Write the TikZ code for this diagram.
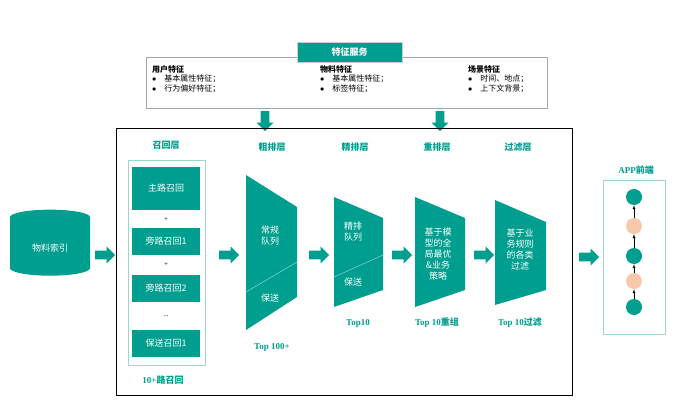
\documentclass[tikz,border=0pt]{standalone}
\usepackage{fontspec}
\setmainfont{Liberation Serif}
\newfontfamily\cjk{Noto Sans CJK SC}
\usetikzlibrary{shapes.geometric,shapes.arrows}
\definecolor{teal1}{RGB}{0,158,142}
\definecolor{peach}{RGB}{248,200,170}
\definecolor{lteal}{RGB}{160,215,205}
\tikzset{
  blk/.style={single arrow,fill=teal1,draw=none,minimum height=20pt,minimum width=17pt,single arrow head extend=4pt,inner sep=4pt},
  rbox/.style={fill=teal1,text=white,minimum width=68pt,inner sep=0pt,font=\cjk\small},
  ttl/.style={text=teal1,font=\cjk\bfseries\small},
  lbl/.style={text=teal1,font=\bfseries\small},
  funnel/.style={fill=teal1},
  ftxt/.style={text=white,font=\cjk\small,align=center,inner sep=0pt},
  dot/.style={circle,minimum size=16pt,inner sep=0pt},
  feat/.style={font=\cjk\footnotesize,align=left,anchor=north west,inner sep=0pt}
}
\begin{document}
\begin{tikzpicture}[x=1pt,y=-1pt,>=latex]
  \useasboundingbox (0,0) rectangle (690,401);
  % feature service
  \draw[gray!70,thick] (146,57) rectangle (547,108);
  \node[fill=teal1,draw=gray!40,text=white,font=\cjk\bfseries\small,minimum width=105pt,minimum height=20pt] (fs) at (349.5,52) {特征服务};
  \node[feat] (user) at (152,65) {\textbf{用户特征}\\$\bullet$\quad 基本属性特征；\\$\bullet$\quad 行为偏好特征；};
  \node[feat] (item) at (320,65) {\textbf{物料特征}\\$\bullet$\quad 基本属性特征；\\$\bullet$\quad 标签特征；};
  \node[feat] (scene) at (468,65) {\textbf{场景特征}\\$\bullet$\quad 时间、地点；\\$\bullet$\quad 上下文背景；};
  \node[blk,shape border rotate=270] (d1) at (265,119) {};
  \node[blk,shape border rotate=270] (d2) at (440,119) {};
  % main frame
  \draw[thick] (116,128) rectangle (572,395);
  % index
  \node[shape=cylinder,shape border rotate=90,aspect=0.35,fill=teal1,minimum width=80pt,minimum height=66pt,text=white,font=\cjk\small] (idx) at (50,248) {物料索引};
  \node[blk] (a0) at (103,255) {};
  % recall
  \node[ttl] (trecall) at (166,145) {召回层};
  \draw[lteal,thick] (128,160) rectangle (205,365);
  \node[rbox,minimum height=43pt] (r1) at (166,188) {主路召回};
  \node[font=\scriptsize] (p1) at (166,220) {+};
  \node[rbox,minimum height=27pt] (r2) at (166,241) {旁路召回1};
  \node[font=\scriptsize] (p2) at (166,265) {+};
  \node[rbox,minimum height=27pt] (r3) at (166,288) {旁路召回2};
  \node[font=\scriptsize] (p3) at (166,316) {...};
  \node[rbox,minimum height=27pt] (r4) at (166,343) {保送召回1};
  \node[lbl] (nrecall) at (163,380) {10+{\cjk 路召回}};
  \node[blk] (a1) at (227,255) {};
  % coarse ranking
  \node[ttl] (tcoarse) at (272,147) {粗排层};
  \fill[funnel] (246,175) -- (297,207) -- (297,297) -- (246,330) -- cycle;
  \draw[cyan!40,thin] (246,292) -- (297,262);
  \node[ftxt] (c1) at (270,236) {常规\\队列};
  \node[ftxt] (c2) at (270,298) {保送};
  \node[lbl] (top1) at (272,347) {Top 100+};
  \node[blk] (a2) at (317,255) {};
  % fine ranking
  \node[ttl] (tfine) at (355,147) {精排层};
  \fill[funnel] (334,197) -- (383,218) -- (383,290) -- (334,307) -- cycle;
  \draw[cyan!40,thin] (334,277) -- (383,255);
  \node[ftxt] (f1) at (353,232) {精排\\队列};
  \node[ftxt] (f2) at (353,282) {保送};
  \node[lbl] (top2) at (358,323) {Top10};
  \node[blk] (a3) at (400,255) {};
  % reranking
  \node[ttl] (trerank) at (437,147) {重排层};
  \fill[funnel] (415,197) -- (465,218) -- (465,290) -- (415,307) -- cycle;
  \node[ftxt] (rr) at (438,254) {基于模\\型的全\\局最优\\\&业务\\策略};
  \node[lbl] (top3) at (437,323) {Top 10{\cjk 重组}};
  \node[blk] (a4) at (482,255) {};
  % filtering
  \node[ttl] (tfilter) at (518,147) {过滤层};
  \fill[funnel] (495,200) -- (546,222) -- (546,290) -- (495,305) -- cycle;
  \node[ftxt] (fl) at (520,250) {基于业\\务规则\\的各类\\过滤};
  \node[lbl] (top4) at (520,323) {Top 10{\cjk 过滤}};
  \node[blk] (a5) at (587,257) {};
  % app
  \node[lbl] (tapp) at (636,170) {APP{\cjk 前端}};
  \draw[lteal,thick] (603,180) rectangle (665,334);
  \node[dot,fill=teal1] (o1) at (634,197) {};
  \node[dot,fill=peach] (o2) at (634,226) {};
  \node[dot,fill=teal1] (o3) at (634,256) {};
  \node[dot,fill=peach] (o4) at (634,281) {};
  \node[dot,fill=teal1] (o5) at (634,307) {};
  \foreach \s/\t in {o5/o4,o4/o3,o3/o2,o2/o1}
    \draw[->,thin] (\s) -- (\t);
\end{tikzpicture}
\end{document}
